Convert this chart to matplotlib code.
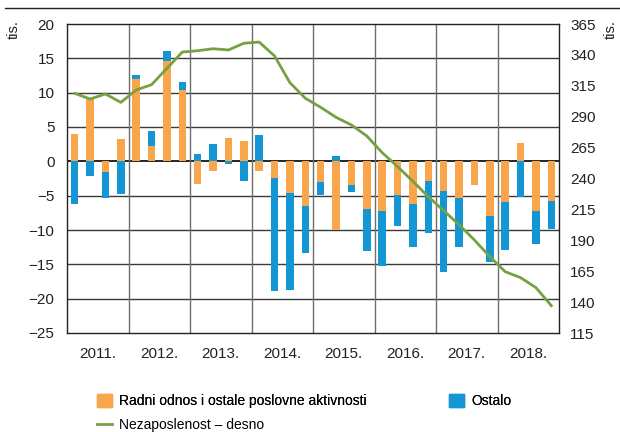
import matplotlib
matplotlib.use("Agg")
import matplotlib.pyplot as plt
from matplotlib.lines import Line2D
from matplotlib.patches import Patch
import numpy as np

plt.rcParams['font.family'] = ['Liberation Sans Narrow', 'Liberation Sans', 'DejaVu Sans']

years = ['2011.', '2012.', '2013.', '2014.', '2015.', '2016.', '2017.', '2018.']

radni = [4.0, 9.2, -1.5, 3.3,
         12.0, 2.2, 14.6, 10.4,
         -3.3, -1.4, 3.4, 3.0,
         -1.4, -2.5, -4.6, -6.45,
         -3.05, -10.0, -3.4, -7.0,
         -7.3, -4.95, -6.2, -2.9,
         -4.3, -5.4, -3.4, -7.9,
         -5.9, 2.7, -7.2, -5.8]

ostalo = [-6.2, -2.1, -3.8, -4.7,
          0.6, 2.2, 1.4, 1.2,
          1.0, 2.5, -0.45, -2.8,
          3.8, -16.4, -14.2, -6.95,
          -1.9, 0.73, -1.1, -6.0,
          -7.9, -4.5, -6.3, -7.6,
          -11.8, -7.1, 0.0, -6.7,
          -7.0, -5.2, -4.9, -4.1]

nezaposlenost = [308.9, 304.3, 308.4, 301.6,
                 311.6, 315.9, 329.1, 342.3,
                 343.4, 345.0, 344.0, 349.4,
                 350.4, 339.1, 317.5, 304.9,
                 297.6, 289.5, 283.3, 274.4,
                 260.9, 249.6, 237.7, 225.3,
                 214.0, 202.6, 190.2, 176.8,
                 164.6, 159.8, 151.7, 137.1]

orange = '#F9A54B'
blue = '#1496D4'
green = '#77A043'

W, H = 620, 432
fig = plt.figure(figsize=(W / 100, H / 100), dpi=100)
ax = fig.add_axes([67 / W, 1 - 333 / H, (559 - 67) / W, (333 - 24) / H])

n = len(radni)
x = np.arange(n) + 0.5
r = np.array(radni)
o = np.array(ostalo)

# stacking: same-sign segments stack, opposite sign starts at zero
o_bottom = np.where(np.sign(o) == np.sign(r), r, 0.0)

bw = 0.48
ax.bar(x, r, width=bw, color=orange, zorder=3, linewidth=0)
ax.bar(x, o, width=bw, bottom=o_bottom, color=blue, zorder=3, linewidth=0)

ax.set_xlim(0, n)
ax.set_ylim(-25, 20)
ax.set_yticks(np.arange(-25, 21, 5))
ax.set_yticklabels([('−' + str(abs(v))) if v < 0 else str(v) for v in range(-25, 21, 5)])
ax.set_xticks(np.arange(len(years)) * 4 + 2)
ax.set_xticklabels(years)
ax.tick_params(axis='both', length=0, labelsize=11, colors='#222222')
ax.tick_params(axis='x', pad=10)
ax.tick_params(axis='y', pad=9)

for yv in range(-20, 20, 5):
    ax.axhline(yv, color='#3a3a3a' if yv != 0 else 'black', lw=1.0 if yv != 0 else 1.2, zorder=1)
for xv in range(4, n, 4):
    ax.axvline(xv, color='#6e6e6e', lw=1.0, zorder=1)
for s in ax.spines.values():
    s.set_color('#222222')
    s.set_linewidth(1.0)

ax2 = ax.twinx()
ax2.set_ylim(115, 365)
ax2.set_yticks(np.arange(115, 366, 25))
ax2.tick_params(axis='y', length=0, labelsize=11, colors='#222222', pad=8)
ax2.plot(x, nezaposlenost, color=green, lw=2.0, zorder=4)
for s in ax2.spines.values():
    s.set_visible(False)

fig.text(14 / W, 1 - 30 / H, 'tis.', rotation=90, ha='center', va='center', fontsize=10.5, color='#222222')
fig.text(611 / W, 1 - 30 / H, 'tis.', rotation=90, ha='center', va='center', fontsize=10.5, color='#222222')

fig.add_artist(Line2D([5 / W, 1.0], [1 - 7.5 / H, 1 - 7.5 / H], color='#222222', lw=1.0))

fs = 10
common = dict(frameon=False, fontsize=fs, handlelength=1.08, handleheight=1.08,
              handletextpad=0.5, borderaxespad=0, borderpad=0, loc='upper left')
leg1 = fig.legend([Patch(color=orange)], ['Radni odnos i ostale poslovne aktivnosti'],
                  bbox_to_anchor=(97 / W, 1 - 394 / H), **common)
leg2 = fig.legend([Patch(color=blue)], ['Ostalo'],
                  bbox_to_anchor=(449 / W, 1 - 394 / H), **common)
leg3 = fig.legend([Line2D([], [], color=green, lw=2)], ['Nezaposlenost – desno'],
                  bbox_to_anchor=(97 / W, 1 - 418 / H), **common)
fig.add_artist(leg1)
fig.add_artist(leg2)

fig.savefig('out.png', dpi=100)
